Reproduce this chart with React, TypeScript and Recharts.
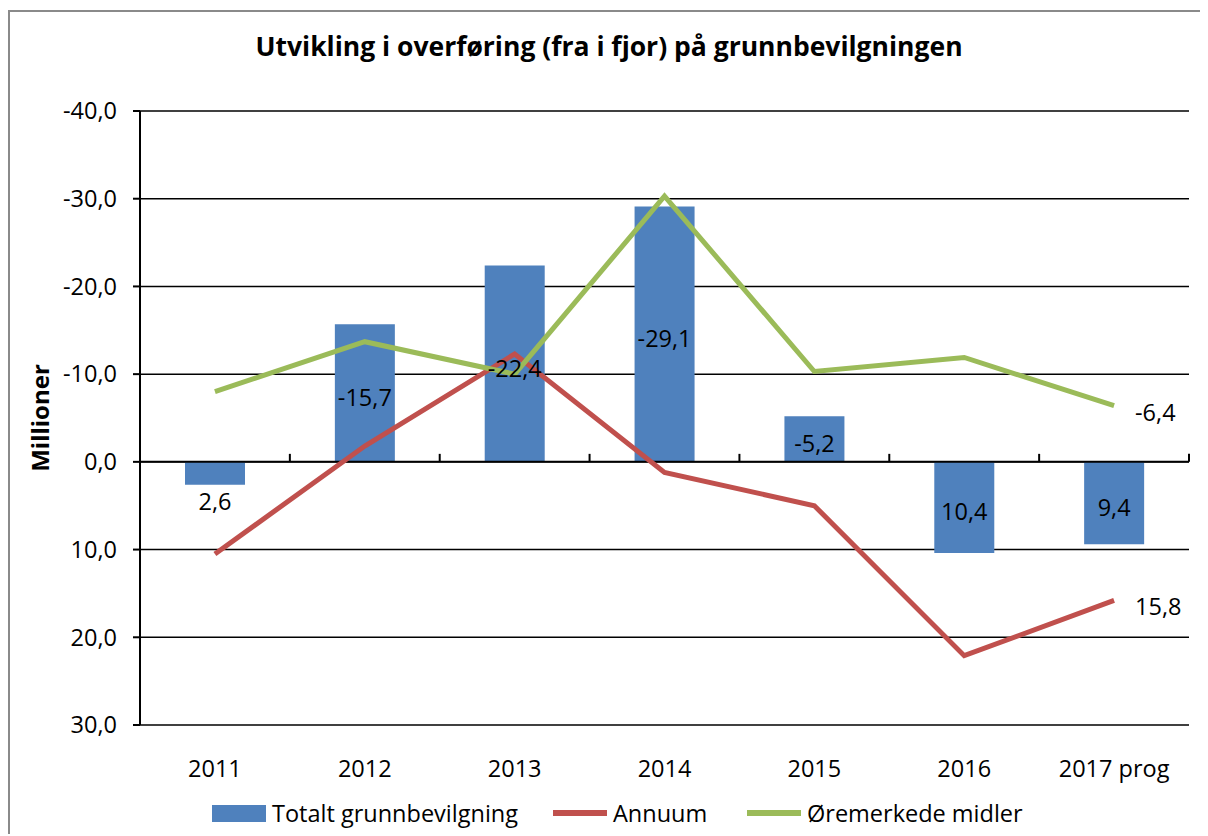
import { Bar, CartesianGrid, ComposedChart, LabelList, Line, ReferenceLine, XAxis, YAxis } from "recharts";

const YEARS = ["2011", "2012", "2013", "2014", "2015", "2016", "2017 prog"];
const TOTAL = [2.6, -15.7, -22.4, -29.1, -5.2, 10.4, 9.4];
const ANNUUM = [10.5, -1.8, -12.3, 1.2, 5.0, 22.1, 15.8];
const OREMERKET = [-8.0, -13.7, -10.0, -30.3, -10.3, -11.9, -6.4];
const Y_TICKS = [-40, -30, -20, -10, 0, 10, 20, 30];

const BLUE = "#4F81BD";
const RED = "#C0504D";
const GREEN = "#9BBB59";
const FONT = "'Open Sans', sans-serif";
const FS = 23.5;

const data = YEARS.map((year, i) => ({
  year,
  total: TOTAL[i],
  annuum: ANNUUM[i],
  oremerket: OREMERKET[i],
}));

const fmt = (v: number) => v.toFixed(1).replace(".", ",");

function BarValueLabel(props: any) {
  const { x, y, width, height, value } = props;
  const top = Math.min(y, y + height);
  const h = Math.abs(height);
  // short bars get their label just past the bar end
  const cy = h < 30 ? top + h + 16 : top + h / 2 + 4;
  return (
    <text x={x + width / 2} y={cy} textAnchor="middle" dominantBaseline="central" fontSize={FS} fontFamily={FONT} fill="#000">
      {fmt(value)}
    </text>
  );
}

function EndLabel(props: any) {
  const { x, y, index, value } = props;
  if (index !== YEARS.length - 1) return null;
  return (
    <text x={x + 21} y={y + 6} dominantBaseline="central" fontSize={FS} fontFamily={FONT} fill="#000">
      {fmt(value)}
    </text>
  );
}

/* category axis crossing at zero, with upward ticks between categories */
function ZeroAxis(props: any) {
  const { x1, y1, x2 } = props;
  const step = (x2 - x1) / YEARS.length;
  return (
    <g>
      <line x1={x1} y1={y1} x2={x2} y2={y1} stroke="#000" strokeWidth={2} />
      {YEARS.map((_, i) => (
        <line key={i} x1={x1 + step * (i + 1)} y1={y1} x2={x1 + step * (i + 1)} y2={y1 - 8} stroke="#000" strokeWidth={2} />
      ))}
    </g>
  );
}

function LegendItem({ color, label, line, left }: { color: string; label: string; line?: boolean; left: number }) {
  return (
    <span style={{ position: "absolute", left, top: 0, display: "inline-flex", alignItems: "center", gap: 6, whiteSpace: "nowrap" }}>
      <span style={{ display: "inline-block", width: 54, height: line ? 6 : 17, background: color }} />
      {label}
    </span>
  );
}

export default function App() {
  return (
    <div
      style={{
        position: "relative",
        top: 2,
        width: 1198,
        height: 824,
        borderTop: "2px solid #8a8a8a",
        borderLeft: "2px solid #8a8a8a",
        fontFamily: FONT,
        overflow: "hidden",
      }}
    >
      <style>{"html, body { overflow: hidden; }"}</style>
      <div
        style={{
          position: "absolute",
          left: 0,
          top: 16,
          width: 1198,
          textAlign: "center",
          fontSize: 26.5,
          fontWeight: 700,
          lineHeight: "36px",
        }}
      >
        Utvikling i overføring (fra i fjor) på grunnbevilgningen
      </div>
      <ComposedChart width={1196} height={822} data={data} margin={{ top: 99, right: 17, bottom: 49, left: 0 }}>
        <CartesianGrid horizontal vertical={false} stroke="#000" strokeWidth={1.5} />
        <XAxis
          dataKey="year"
          axisLine={false}
          tickLine={false}
          tickSize={0}
          tickMargin={35}
          height={60}
          tick={{ fontSize: FS, fontFamily: FONT, fill: "#000" }}
        />
        <YAxis
          reversed
          domain={[-40, 30]}
          ticks={Y_TICKS}
          interval={0}
          width={130}
          tickFormatter={fmt}
          tickSize={7}
          tickMargin={16}
          axisLine={{ stroke: "#000", strokeWidth: 2 }}
          tickLine={{ stroke: "#000", strokeWidth: 2 }}
          tick={{ fontSize: FS, fontFamily: FONT, fill: "#000" }}
          label={{
            content: ({ viewBox }: any) => {
              const cx = viewBox.x + 29;
              const cy = viewBox.y + viewBox.height / 2;
              return (
                <text x={cx} y={cy} transform={`rotate(-90 ${cx} ${cy})`} textAnchor="middle" dominantBaseline="central" fontSize={24} fontWeight={700} fontFamily={FONT} fill="#000">
                  Millioner
                </text>
              );
            },
          }}
        />
        <Bar dataKey="total" fill={BLUE} barSize={60} isAnimationActive={false}>
          <LabelList dataKey="total" content={BarValueLabel} />
        </Bar>
        <ReferenceLine y={0} shape={ZeroAxis} />
        <Line type="linear" dataKey="annuum" stroke={RED} strokeWidth={5} dot={false} isAnimationActive={false}>
          <LabelList dataKey="annuum" content={EndLabel} />
        </Line>
        <Line type="linear" dataKey="oremerket" stroke={GREEN} strokeWidth={5} dot={false} isAnimationActive={false}>
          <LabelList dataKey="oremerket" content={EndLabel} />
        </Line>
      </ComposedChart>
      <div
        style={{
          position: "absolute",
          left: 0,
          top: 786,
          width: 1198,
          height: 30,
          fontSize: FS,
          lineHeight: "30px",
        }}
      >
        <LegendItem left={202} color={BLUE} label="Totalt grunnbevilgning" />
        <LegendItem left={543} color={RED} label="Annuum" line />
        <LegendItem left={737} color={GREEN} label="Øremerkede midler" line />
      </div>
    </div>
  );
}
